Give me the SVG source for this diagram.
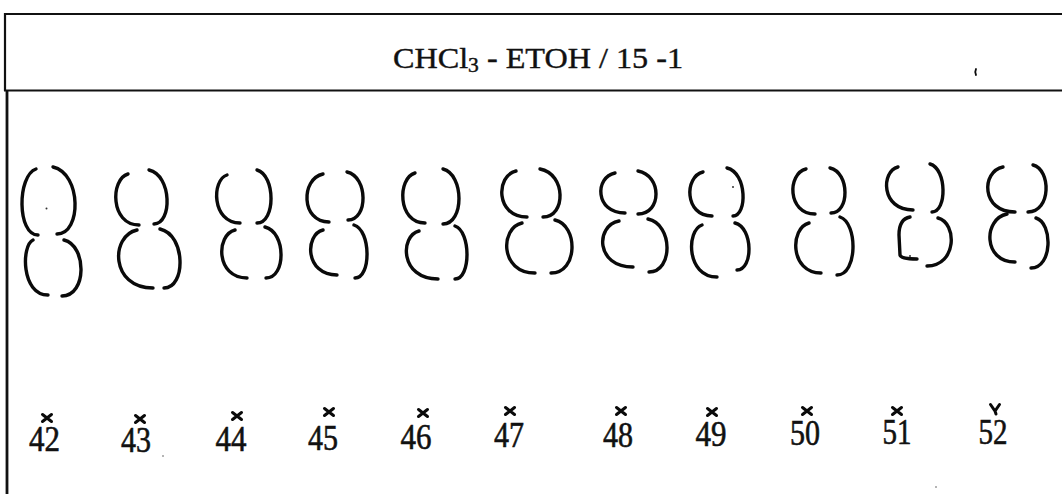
<svg xmlns="http://www.w3.org/2000/svg" width="1062" height="494" viewBox="0 0 1062 494">
  <style>
    .frame { stroke: #111; stroke-width: 2.2; fill: none; }
    .spot { stroke: #0a0a0a; stroke-width: 3.4; fill: none; stroke-linecap: round; stroke-linejoin: round; }
    .mark { stroke: #0a0a0a; stroke-width: 3; fill: none; stroke-linecap: round; }
    .title { font-family: "Liberation Serif", "Times New Roman", serif; font-size: 30px; fill: #111; stroke: #111; stroke-width: 0.4; }
    .num { font-family: "Liberation Serif", "Times New Roman", serif; font-size: 35px; fill: #111; stroke: #111; stroke-width: 0.6; text-anchor: middle; }
    .speck { fill: #333; }
  </style>
  <rect width="1062" height="494" fill="#fff"/>

  <!-- plate frame and solvent header -->
  <g id="frame">
    <line class="frame" x1="4" y1="14" x2="1062" y2="14"/>
    <line class="frame" x1="4" y1="90.5" x2="1062" y2="90.5"/>
    <line class="frame" x1="5" y1="13" x2="5" y2="91"/>
    <line class="frame" x1="7" y1="90" x2="7" y2="494" style="stroke-width:2.8"/>
  </g>

  <g id="header">
    <text class="title" x="393" y="68" textLength="290" lengthAdjust="spacingAndGlyphs">CHCl<tspan font-size="20" dy="4">3</tspan><tspan dy="-4"> - ETOH / 15 -1</tspan></text>
    <path class="mark" d="M976,69 Q974.5,72 976,75" style="stroke-width:1.8"/>
  </g>

  <!-- eluted spots: each lane shows an upper and a lower zone, outlined as two open arcs -->
  <g id="spots">
    <g id="lane-42">
      <path class="spot" d="M36,169 C17,175.6 17,235 38,235"/>
      <path class="spot" d="M53,167 C81.7,173.7 81.7,234 57,234"/>
      <path class="spot" d="M33,240 C21.2,245.5 21.2,295 48,295"/>
      <path class="spot" d="M64,240 C87,245.6 87,296 62,296"/>
    </g>
    <g id="lane-43">
      <path class="spot" d="M128,174 C110.2,179.1 110.2,225 139,225"/>
      <path class="spot" d="M149,170 C172.2,175.4 172.2,224 154,224"/>
      <path class="spot" d="M137,230 C110.3,235.8 110.3,288 153,288"/>
      <path class="spot" d="M160,229 C186,234.9 186,288 164,288"/>
    </g>
    <g id="lane-44">
      <path class="spot" d="M227,175 C211.5,179.8 211.5,223 240,223"/>
      <path class="spot" d="M257,170 C275.7,175.3 275.7,223 257,223"/>
      <path class="spot" d="M235,230 C215.7,234.8 215.7,278 247,278"/>
      <path class="spot" d="M265,227 C286.2,232.1 286.2,278 266,278"/>
    </g>
    <g id="lane-45">
      <path class="spot" d="M323,174 C300.7,178.8 300.7,222 329,222"/>
      <path class="spot" d="M347,172 C368.2,176.8 368.2,220 348,220"/>
      <path class="spot" d="M323,230 C304.7,234.5 304.7,275 337,275"/>
      <path class="spot" d="M354,225 C371.2,230.3 371.2,278 355,278"/>
    </g>
    <g id="lane-46">
      <path class="spot" d="M415,173 C397.3,178 397.3,223 425,223"/>
      <path class="spot" d="M443,169 C464.3,174.5 464.3,224 443,224"/>
      <path class="spot" d="M419,231 C399.8,235.8 399.8,279 438,279"/>
      <path class="spot" d="M455,226 C471,231.3 471,279 455,279"/>
    </g>
    <g id="lane-47">
      <path class="spot" d="M516,171 C495.5,175.6 495.5,217 527,217"/>
      <path class="spot" d="M540,169 C566.2,173.8 566.2,217 543,217"/>
      <path class="spot" d="M522,223 C499.8,228 499.8,273 535,273"/>
      <path class="spot" d="M555,220 C578.3,225.3 578.3,273 551,273"/>
    </g>
    <g id="lane-48">
      <path class="spot" d="M615,173 C594.7,177 594.7,213 625,213"/>
      <path class="spot" d="M638,171 C662,175.3 662,214 638,214"/>
      <path class="spot" d="M619,221 C595.3,225.6 595.3,267 633,267"/>
      <path class="spot" d="M648,219 C673.2,224.3 673.2,272 649,272"/>
    </g>
    <g id="lane-49">
      <path class="spot" d="M703,172 C684.2,176.4 684.2,216 712,216"/>
      <path class="spot" d="M727,168 C747.3,172.8 747.3,216 733,216"/>
      <path class="spot" d="M702,225 C686.2,230.2 686.2,277 717,277"/>
      <path class="spot" d="M735,223 C753.3,227.7 753.3,270 737,270"/>
    </g>
    <g id="lane-50">
      <path class="spot" d="M806,169 C787.2,173.5 787.2,214 815,214"/>
      <path class="spot" d="M830,168 C849.8,172.5 849.8,213 831,213"/>
      <path class="spot" d="M809,223 C789.7,228 789.7,273 821,273"/>
      <path class="spot" d="M840,217 C857.8,222.8 857.8,275 837,275"/>
    </g>
    <g id="lane-51">
      <path class="spot" d="M898,167 C880.8,171.3 880.8,210 913,210"/>
      <path class="spot" d="M930,164 C947,168.8 947,212 932,212"/>
      <path class="spot" d="M910,217 Q899,219 899,235 L900,255 Q901,259 917,259"/>
      <path class="spot" d="M938,218 C957.2,222.8 957.2,266 927,266"/>
    </g>
    <g id="lane-52">
      <path class="spot" d="M1003,167 C981,171.5 981,212 1015,212"/>
      <path class="spot" d="M1033,165 C1051.2,169.7 1051.2,212 1028,212"/>
      <path class="spot" d="M1007,214 C983,218.8 983,262 1015,262"/>
      <path class="spot" d="M1036,218 C1052.8,223 1052.8,268 1031,268"/>
    </g>
  </g>

  <!-- application points -->
  <g id="origins">
    <path class="mark" d="M42.5,414.5 L51.5,421.5 M51.5,414.5 L42.5,421.5"/>
    <path class="mark" d="M135.5,415.5 L144.5,422.5 M144.5,415.5 L135.5,422.5"/>
    <path class="mark" d="M232.5,412.5 L241.5,419.5 M241.5,412.5 L232.5,419.5"/>
    <path class="mark" d="M324.5,408.5 L333.5,415.5 M333.5,408.5 L324.5,415.5"/>
    <path class="mark" d="M418.5,409.5 L427.5,416.5 M427.5,409.5 L418.5,416.5"/>
    <path class="mark" d="M505.5,407.5 L514.5,414.5 M514.5,407.5 L505.5,414.5"/>
    <path class="mark" d="M616.5,407.5 L625.5,414.5 M625.5,407.5 L616.5,414.5"/>
    <path class="mark" d="M707.5,408.5 L716.5,415.5 M716.5,408.5 L707.5,415.5"/>
    <path class="mark" d="M802.5,407.5 L811.5,414.5 M811.5,407.5 L802.5,414.5"/>
    <path class="mark" d="M892.5,407.5 L901.5,414.5 M901.5,407.5 L892.5,414.5"/>
    <path class="mark" d="M990.5,404.5 L995,411 L999.5,404.5 M995,411 L996,414"/>
  </g>

  <g id="labels">
    <text class="num" x="44.5" y="451" textLength="31" lengthAdjust="spacingAndGlyphs">42</text>
    <text class="num" x="136" y="452" textLength="30" lengthAdjust="spacingAndGlyphs">43</text>
    <text class="num" x="231" y="451" textLength="31" lengthAdjust="spacingAndGlyphs">44</text>
    <text class="num" x="323" y="450" textLength="30" lengthAdjust="spacingAndGlyphs">45</text>
    <text class="num" x="416" y="449" textLength="31" lengthAdjust="spacingAndGlyphs">46</text>
    <text class="num" x="509" y="447" textLength="30" lengthAdjust="spacingAndGlyphs">47</text>
    <text class="num" x="618" y="447" textLength="30" lengthAdjust="spacingAndGlyphs">48</text>
    <text class="num" x="711" y="446" textLength="31" lengthAdjust="spacingAndGlyphs">49</text>
    <text class="num" x="805" y="445" textLength="30" lengthAdjust="spacingAndGlyphs">50</text>
    <text class="num" x="897" y="444" textLength="29" lengthAdjust="spacingAndGlyphs">51</text>
    <text class="num" x="993" y="444" textLength="29" lengthAdjust="spacingAndGlyphs">52</text>
  </g>

  <!-- stray specks on the plate -->
  <g id="specks">
    <circle class="speck" cx="46.5" cy="208.5" r="1"/>
    <circle class="speck" cx="733" cy="187" r="1"/>
    <circle class="speck" cx="910" cy="256" r="1"/>
    <circle class="speck" cx="163" cy="456" r="0.7"/>
    <circle class="speck" cx="936" cy="487" r="0.7"/>
  </g>
</svg>
